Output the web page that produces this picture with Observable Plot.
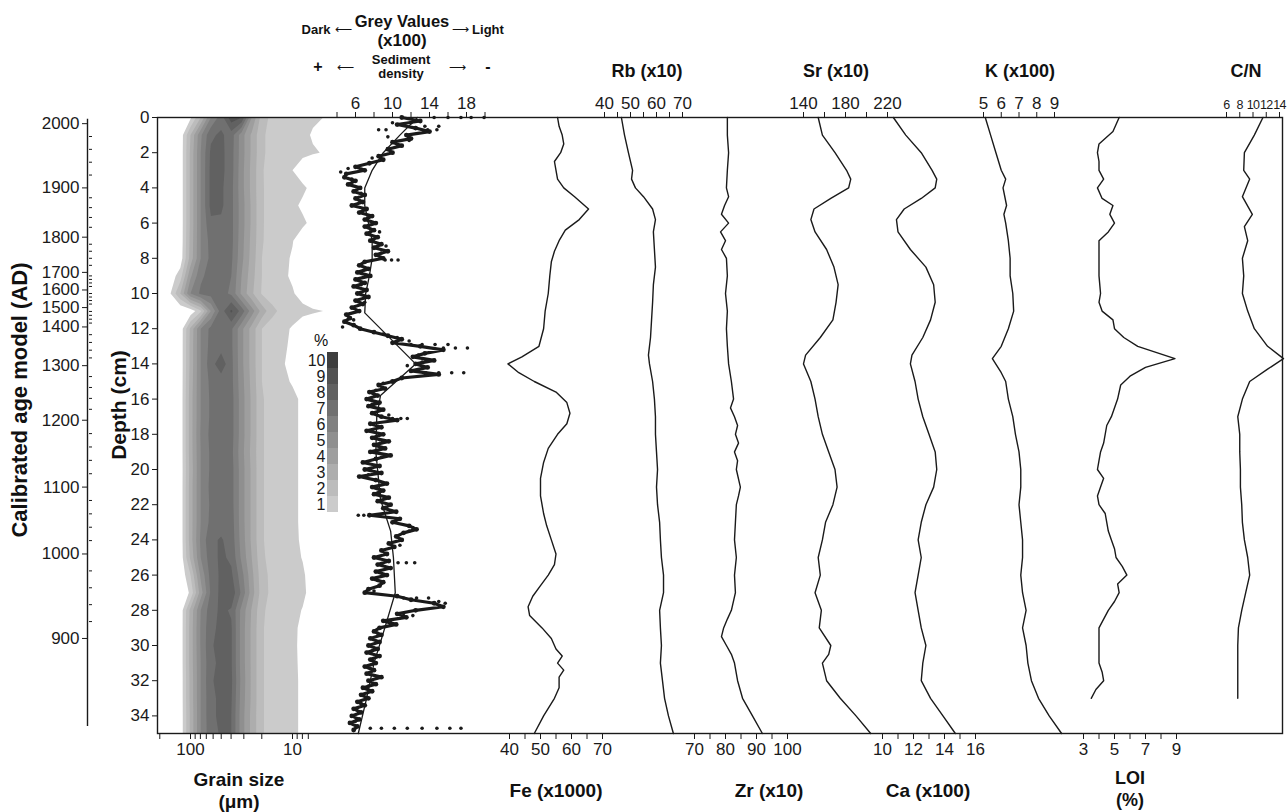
<!DOCTYPE html>
<html><head><meta charset="utf-8">
<script src="https://cdn.jsdelivr.net/npm/d3@7"></script>
<script src="https://cdn.jsdelivr.net/npm/@observablehq/plot@0.6"></script>
<style>
body{margin:0;background:#fff;font-family:"Liberation Sans",Arial,Helvetica,sans-serif;}
#chart{position:relative;width:1288px;height:812px;overflow:hidden;}
#chart svg{position:absolute;left:0;top:0;}
.lbl{position:absolute;color:#111;white-space:nowrap;line-height:1;transform:translate(-50%,-50%);}
.rot{position:absolute;color:#111;white-space:nowrap;line-height:1;font-weight:bold;transform:translate(-50%,-50%) rotate(-90deg);}
</style></head>
<body><div id="chart"></div>
<script>
// ================= DATA =================
const depthTicks = [0,2,4,6,8,10,12,14,16,18,20,22,24,26,28,30,32,34];
const ageLabels = [2000,1900,1800,1700,1600,1500,1400,1300,1200,1100,1000,900];
const ageDepths = [0.35,4.0,6.8,8.8,9.8,10.8,11.9,14.1,17.2,21.0,24.8,29.6];

// grain size distribution (% frequency); columns = log10(grain size µm) 2.2 .. 0.7, rows = depth 0..35 cm
const grainLogCols = [2.2,2.1,2.0,1.9,1.8,1.7,1.6,1.5,1.4,1.3,1.2,1.1,1.0,0.9,0.8,0.7];
const grainRows = [
 [0,0,0.8,3.0,6.0,7.5,9.6,9.0,5.0,2.5,1.7,1.5,1.4,1.3,1.15,1.0],
 [0,0.3,3.0,5.8,7.8,8.2,7.5,5.5,3.8,2.2,1.6,1.4,1.3,1.25,0.9,0],
 [0,0.3,3.2,6.0,8.2,8.3,7.4,5.5,3.8,2.2,1.6,1.45,1.35,1.25,1.1,0.95],
 [0,0.3,3.2,6.0,8.3,8.3,7.4,5.4,3.7,2.1,1.5,1.3,1.0,0.4,0,0],
 [0,0.3,3.2,6.0,8.3,8.2,7.3,5.4,3.7,2.1,1.6,1.4,1.3,1.2,0.7,0],
 [0,0.3,3.2,6.0,8.3,8.2,7.3,5.5,3.8,2.1,1.6,1.4,1.25,0.8,0,0],
 [0,0.3,3.2,6.0,7.8,7.8,7.3,5.5,3.8,2.1,1.6,1.4,1.3,1.2,0.7,0],
 [0,0.3,3.3,6.0,7.4,7.6,7.3,5.4,3.7,2.1,1.5,1.3,1.05,0.4,0,0],
 [0,0.4,3.4,6.0,7.3,7.5,7.2,5.3,3.6,2.0,1.5,1.25,0.9,0.3,0,0],
 [0.4,1.5,4.8,6.8,7.4,7.5,7.0,5.0,3.4,2.0,1.5,1.2,0.85,0.2,0,0],
 [0.9,3.0,6.0,7.2,7.4,7.4,6.8,4.8,3.2,1.9,1.5,1.3,1.1,0.6,0,0],
 [0,0,0.3,1.8,5.0,7.5,9.2,7.6,5.5,3.6,2.3,1.7,1.45,1.3,1.15,1.0],
 [0,0.3,3.2,6.0,7.3,7.5,7.2,5.3,3.6,2.0,1.5,1.25,0.9,0.3,0,0],
 [0,0.3,3.3,6.0,7.4,7.6,7.2,5.3,3.6,2.0,1.5,1.2,0.8,0.2,0,0],
 [0,0.3,3.3,6.0,7.6,8.6,7.3,5.3,3.6,2.0,1.45,1.1,0.7,0.2,0,0],
 [0,0.3,3.4,6.0,7.3,7.5,7.3,5.4,3.7,2.0,1.5,1.25,0.9,0.3,0,0],
 [0,0.3,3.5,6.0,7.2,7.5,7.4,5.5,3.8,2.1,1.6,1.4,1.25,0.8,0,0],
 [0,0.3,3.5,6.0,7.2,7.5,7.4,5.5,3.8,2.1,1.6,1.4,1.25,0.8,0,0],
 [0,0.3,3.5,6.1,7.3,7.6,7.4,5.5,3.8,2.1,1.6,1.4,1.25,0.8,0,0],
 [0,0.3,3.5,6.0,7.2,7.5,7.3,5.4,3.7,2.1,1.6,1.4,1.25,0.8,0,0],
 [0,0.3,3.4,6.0,7.2,7.5,7.4,5.5,3.8,2.1,1.6,1.4,1.25,0.8,0,0],
 [0,0.3,3.5,6.0,7.3,7.5,7.4,5.5,3.8,2.1,1.6,1.4,1.25,0.8,0,0],
 [0,0.3,3.5,6.0,7.2,7.5,7.4,5.5,3.8,2.1,1.6,1.4,1.25,0.8,0,0],
 [0,0.3,3.5,6.0,7.3,7.6,7.5,5.5,3.8,2.1,1.6,1.4,1.25,0.8,0,0],
 [0,0.3,3.5,6.2,7.8,8.1,7.6,5.6,3.8,2.1,1.6,1.4,1.25,0.85,0,0],
 [0,0.3,3.2,6.0,7.6,8.2,7.8,5.8,4.0,2.2,1.6,1.4,1.3,0.95,0.2,0],
 [0,0.1,2.0,5.2,7.4,8.2,8.2,6.4,4.3,2.4,1.7,1.45,1.3,1.15,0.5,0],
 [0,0,1.2,4.5,7.2,8.3,8.7,6.8,4.5,2.5,1.7,1.45,1.3,1.2,0.6,0],
 [0,0.3,3.3,6.0,7.6,8.2,7.9,5.7,3.9,2.2,1.6,1.4,1.3,0.95,0.2,0],
 [0,0.3,3.4,6.1,7.8,8.2,8.1,5.6,3.8,2.1,1.6,1.4,1.25,0.75,0,0],
 [0,0.3,3.4,6.1,7.9,8.3,8.1,5.6,3.8,2.1,1.6,1.4,1.25,0.7,0,0],
 [0,0.3,3.4,6.0,7.8,8.2,8.1,5.6,3.8,2.1,1.6,1.4,1.25,0.75,0,0],
 [0,0.3,3.3,6.0,7.9,8.3,8.2,5.7,3.8,2.1,1.6,1.4,1.25,0.8,0,0],
 [0,0.3,3.3,6.0,7.8,8.2,8.1,5.6,3.8,2.1,1.6,1.4,1.25,0.8,0,0],
 [0,0.3,3.2,6.0,7.8,8.2,8.0,5.5,3.7,2.1,1.6,1.4,1.25,0.8,0,0],
 [0,0.3,3.2,6.0,7.7,8.1,8.0,5.5,3.7,2.1,1.6,1.4,1.25,0.8,0,0]
];
const grainLevels = [1,2,3,4,5,6,7,8,9,10];
const grainGreys = ["#cbcbcb","#bcbcbc","#adadad","#9e9e9e","#8f8f8f","#808080","#707070","#616161","#525252","#3e3e3e"];
const grainTickLabels = [100, 10];
const grainMinorTicks = [200,90,80,70,60,50,40,30,20,9,8,7];

// grey values (x100), one reading every 0.2 cm from 0 to 34.8 cm
const greyStep = 0.2;
const greyValues = [
 11.0,13.0,10.5,12.5,14.0,11.5,12.0,10.0,11.0,9.5,
 10.0,8.5,9.0,7.5,6.0,7.0,5.0,4.8,6.0,5.2,
 6.5,5.8,7.0,6.0,6.8,5.6,7.2,6.4,7.8,7.0,
 8.2,7.0,8.0,7.2,8.4,7.6,8.8,8.0,9.5,8.2,
 9.0,7.0,6.4,7.4,6.2,7.6,6.0,7.0,5.8,7.2,
 6.2,7.4,6.0,6.8,5.6,6.4,5.0,5.4,4.8,5.8,
 6.5,8.0,9.5,11.0,10.0,13.0,15.5,13.5,12.2,14.5,
 12.5,13.8,12.0,15.0,11.0,10.0,8.5,9.2,7.5,8.4,
 7.2,8.6,7.4,9.0,7.8,8.8,10.5,7.6,8.8,7.2,
 9.0,7.8,9.6,8.0,9.2,7.6,9.8,8.2,6.8,8.6,
 7.0,8.8,6.4,8.2,9.4,7.8,9.0,8.0,9.6,8.4,
 9.8,9.0,10.4,7.5,10.8,10.0,11.8,12.6,11.2,10.4,
 11.0,9.6,10.2,8.8,9.4,8.0,9.6,8.4,9.8,8.2,
 9.4,7.8,9.0,8.6,7.4,7.0,10.5,12.0,14.5,15.5,
 12.5,10.5,11.5,9.0,10.4,8.6,8.0,8.8,7.6,8.6,
 7.4,8.4,7.2,8.6,7.6,8.2,7.0,8.0,7.2,8.8,
 7.4,8.2,6.8,7.8,6.6,7.4,6.2,7.0,5.8,6.6,
 5.6,6.4,5.4,6.2,5.8
];
// scattered outlying readings [depth, grey]
const greyStreaks = [
 [0.0,14.5],[0.0,16.0],[0.0,17.4],[0.0,18.5],[0.0,19.9],
 [0.3,10.0],[0.3,12.0],[0.5,13.5],[0.5,15.0],
 [0.7,8.5],[0.7,9.3],[0.7,13.8],[0.7,14.8],
 [1.1,9.5],[1.3,11.8],[2.3,7.8],[2.9,5.2],[3.1,4.4],[3.5,5.6],[4.3,6.6],
 [6.5,8.6],[7.3,9.3],[7.7,8.8],
 [8.1,9.2],[8.1,9.9],[8.1,10.6],
 [9.5,6.6],[10.5,7.0],[11.5,5.8],[11.9,4.6],
 [12.3,9.0],[12.5,10.5],[12.7,11.8],
 [12.9,12.0],[12.9,13.2],[12.9,14.6],[12.9,16.0],
 [13.1,15.5],[13.1,16.8],[13.1,18.1],
 [13.5,12.8],[13.9,13.2],[14.1,11.6],
 [14.5,13.6],[14.5,15.0],[14.5,16.4],[14.5,17.7],
 [15.1,9.0],[15.5,8.2],[16.3,7.8],[16.9,9.6],
 [17.1,10.0],[17.1,10.9],[17.1,11.6],
 [18.3,8.6],[19.3,8.8],[20.3,7.4],[21.3,8.6],
 [22.6,6.3],[22.6,6.9],[22.6,7.6],[22.6,8.3],
 [23.3,12.2],[23.5,11.8],[24.3,10.8],
 [25.3,10.6],[25.3,11.5],[25.3,12.4],
 [26.3,8.4],[26.9,8.0],
 [27.3,11.2],[27.3,12.6],[27.3,13.9],[27.5,15.0],[27.6,15.7],
 [28.3,11.2],[28.3,12.2],[28.7,9.8],
 [29.3,8.4],[30.3,7.8],[31.3,7.6],[32.3,7.4],[33.3,6.6],[34.3,6.0],
 [34.7,7.6],[34.7,8.8],[34.7,10.2],[34.7,11.6],[34.7,13.2],[34.7,14.8],[34.7,16.2],[34.7,17.4]
];
const greySmooth = [[0,12.7],[1,10.8],[2,9.0],[3,7.8],[4,7.0],[5,7.0],[6,7.4],[7,7.8],[8,7.8],[9,7.5],[10,7.1],[11.1,7.0],[14.0,12.5],[15.8,8.7],[17,8.3],[19,8.2],[21.7,8.7],[23.5,9.8],[25,10.1],[27,10.3],[29.3,9.0],[31,8.0],[33,7.2],[35,6.3]];
const greyTickLabels = [6,10,14,18];
const greyMinorTicks = [4,8,12,16,20];

// element profiles [depth cm, value]
const fe = [[0,55.5],[0.5,56],[1,57],[1.5,57.5],[2,56.5],[2.5,54.5],[3,55],[3.5,55.5],[4,57.5],[4.5,61],[5.2,65.5],[5.8,62.5],[6.4,58],[7,56],[7.6,54.5],[8.2,53.5],[9,53],[10,52.5],[11,51.5],[12,51],[13,49.5],[13.6,44],[14,39.5],[14.5,43],[15,48],[15.6,55],[16.2,58.5],[16.8,59.5],[17.4,58.5],[18,55.5],[18.8,52.5],[19.6,51],[20.5,50],[21.5,50],[22.5,51],[23.2,52],[24,53.5],[24.8,55],[25.4,54.5],[26,52.5],[26.6,50],[27.2,47.5],[27.8,46],[28.3,46.5],[29,50.5],[29.6,53.5],[30.2,55],[30.6,57],[31,55.5],[31.4,57.5],[31.8,56],[32.4,56],[33,54.5],[34,51],[35,48]];
const rb = [[0,46.5],[1,47.7],[2,49.2],[3,50.8],[3.5,50.4],[4,51.9],[4.5,55],[5.2,58.5],[5.8,59.6],[6.5,58.8],[7.5,59.2],[8.5,59.6],[9.5,58.8],[10.5,58.5],[11.5,58.1],[12.5,57.7],[13.5,56.9],[14,57.3],[15,58.5],[16,59.2],[17,59.6],[18,59.6],[19,60],[20,60.4],[21,60],[22,60.4],[23,61.2],[24,61.5],[25,61.9],[26,62.7],[27,62.7],[28,61.2],[29,61.5],[30,61.9],[31,61.5],[32,62.3],[33,63.1],[34,64.6],[35,66.5]];
const zr = [[0,80.6],[1,80.6],[2,81],[3,80.6],[4,80.3],[4.5,81],[5,79.7],[5.5,78.7],[6,81],[6.5,78.4],[7,80],[7.5,78.7],[8,80.3],[9,80.6],[10,80],[11,80.6],[12,80.3],[13,80.6],[14,81],[15,81.9],[16,82.6],[16.5,81.6],[17,82.9],[17.5,83.9],[18,83.2],[18.5,84.2],[19,82.9],[19.5,83.9],[20,83.5],[21,84.8],[21.5,84.2],[22,83.5],[23,83.2],[24,82.9],[25,83.5],[26,82.9],[27,83.2],[28,81.9],[28.5,80.6],[29,79.4],[29.5,78.7],[30,80.3],[30.5,81.9],[31,82.9],[32,83.9],[33,85.5],[34,88.7],[35,91.9]];
const sr = [[0,154],[1,158],[2,170],[3,181],[3.5,185],[4,183],[4.6,166],[5.2,150],[5.8,147],[6.5,151],[7.5,162],[8.5,169],[9.5,173],[10.5,171],[11.5,168],[12.5,156],[13.5,142],[14,140],[15,147],[16,151],[17,154],[18,158],[19,164],[20,170],[21,172],[22,168],[23,161],[24,158],[25,154],[26,156],[27,151],[28,157],[29,155],[30,166],[30.5,164],[31,158],[32,162],[33,175],[34,190],[35,204]];
const ca = [[0,10.7],[1,11.5],[2,12.5],[3,13.2],[3.5,13.5],[4,13.4],[4.6,12.5],[5.2,11.4],[5.8,10.9],[6.5,11],[7.5,11.8],[8.5,12.8],[9.5,13.3],[10.5,13.4],[11.5,13.1],[12.5,12.6],[13.5,11.9],[14,11.8],[15,12.1],[16,12.3],[17,12.6],[18,13],[19,13.4],[20,13.5],[21,13.3],[22,12.8],[23,12.5],[24,12.3],[25,12.5],[26,12.3],[27,12.1],[28,12.3],[29,12.5],[30,12.8],[31,12.6],[32,12.5],[33,13.1],[34,13.9],[35,14.7]];
const k = [[0,5.1],[1,5.4],[2,5.7],[3,6.0],[3.5,6.25],[4,6.1],[5,6.3],[5.5,6.15],[6,6.25],[7,6.4],[8,6.5],[9,6.5],[10,6.65],[11,6.7],[12,6.4],[13,6.0],[13.7,5.5],[14.5,6.0],[15,6.25],[16,6.4],[17,6.65],[18,6.8],[19,7.0],[20,7.1],[21,7.1],[22,7.0],[23,7.1],[24,7.2],[25,7.2],[26,7.1],[27,7.2],[28,7.4],[29,7.2],[30,7.4],[31,7.5],[32,7.7],[33,8.1],[34,8.7],[35,9.4]];
const loi = [[0,5.3],[0.8,4.9],[1.5,4.0],[2,3.9],[2.5,4.0],[3,4.0],[3.5,4.3],[4,3.9],[4.6,4.2],[5,4.9],[5.5,4.7],[6,5.0],[6.5,4.6],[7,4.0],[8,4.0],[9,4.0],[10,4.1],[10.5,4.0],[11,4.2],[11.5,4.9],[12,5.0],[12.5,5.6],[13,6.5],[13.7,8.9],[14.2,7.0],[14.7,6.0],[15.2,5.4],[16,5.2],[17,4.8],[17.5,4.5],[18.5,4.3],[19,4.1],[19.5,4.0],[20,3.9],[20.5,4.3],[21,4.1],[21.5,3.9],[22,4.0],[22.5,4.4],[23,4.5],[23.5,4.6],[24,4.8],[24.5,5.0],[25,5.1],[25.5,5.5],[26,5.8],[26.5,5.2],[27,5.3],[27.5,5.0],[28,4.6],[28.5,4.3],[29,4.0],[29.5,4.0],[30,4.0],[31,4.0],[31.5,4.2],[32,4.3],[32.5,3.8],[33,3.5]];
const cn = [[0,11.5],[1,10.2],[2,8.7],[3,8.6],[3.5,9.5],[4.5,8.4],[5.5,9.9],[6.2,8.7],[7,9.2],[8,8.4],[9,8.6],[10,8.4],[11,9.2],[12,10.2],[13,12.2],[13.7,14.6],[14.3,12.2],[15,9.5],[16,8.4],[17,7.7],[18,8.0],[19,8.0],[20,8.1],[21,8.1],[22,8.3],[23,8.4],[24,8.7],[25,9.2],[26,9.5],[27,8.9],[28,8.3],[29,7.8],[30,7.7],[31,7.7],[32,7.7],[33,7.7]];

// ================= DRAWING =================
const chart = document.getElementById("chart");
const W = 1288, H = 812;
const INK = "#1a1a1a";
const FONT = '"Liberation Sans", Arial, Helvetica, sans-serif';
const Yscale = {domain: [0, 35], range: [117, 733], axis: null};

function layer(opts) {
  const {style = {}, ...rest} = opts;
  const svg = Plot.plot({
    width: W, height: H,
    marginTop: 117, marginBottom: 79, marginLeft: 157, marginRight: 6,
    y: Yscale,
    ...rest,
    style: {background: "transparent", fontFamily: FONT, fontSize: "17px", color: INK, overflow: "visible", ...style}
  });
  chart.appendChild(svg);
}

const greyColor = {type: "threshold", domain: grainLevels.slice(1), range: grainGreys};

// grain size contour
layer({
  x: {domain: [2, 1], range: [190, 292], axis: null},
  color: greyColor,
  marks: [
    Plot.contour(grainRows.flat(), {width: grainLogCols.length, height: grainRows.length,
      x1: grainLogCols[0] + 0.05, x2: grainLogCols[grainLogCols.length - 1] - 0.05, y1: -0.5, y2: 35.5,
      fill: Plot.identity, thresholds: grainLevels, clip: true}),
    Plot.axisX(grainTickLabels.map(Math.log10), {anchor: "bottom", tickSize: 6, tickPadding: 3, tickFormat: d => String(Math.round(10 ** d)), label: null}),
    Plot.axisX(grainMinorTicks.map(Math.log10), {anchor: "bottom", tickSize: 6, tickFormat: () => "", label: null})
  ]
});

// frame + depth axis
layer({
  x: {domain: [0, 1], axis: null},
  marks: [
    Plot.frame({stroke: INK, strokeWidth: 1.4}),
    Plot.axisY(depthTicks, {anchor: "left", tickSize: 5, tickPadding: 3, label: null})
  ]
});

// age axis
const ageScale = d3.scaleLinear().domain(ageLabels).range(ageDepths);
const ageMinor = [];
for (let a = 1980; a >= 920; a -= 20) if (a % 100 !== 0) ageMinor.push(ageScale(a));
layer({
  marginLeft: 87, marginRight: W - 88,
  x: {domain: [0, 1], axis: null},
  marks: [
    Plot.ruleX([0], {y1: 0.1, y2: 34.6, stroke: INK, strokeWidth: 1.4}),
    Plot.axisY(ageDepths, {anchor: "left", tickSize: 5, tickPadding: 3, tickFormat: d => String(ageLabels[ageDepths.indexOf(d)]), label: null}),
    Plot.axisY(ageMinor, {anchor: "right", tickSize: 3, tickFormat: () => "", label: null})
  ]
});

// grey values
const greyPts = greyValues.map((v, i) => ({d: +(i * greyStep).toFixed(1), v}));
layer({
  x: {domain: [6, 18], range: [355, 466], axis: null},
  marks: [
    Plot.axisX(greyTickLabels, {anchor: "top", tickSize: 6, tickPadding: 3, label: null}),
    Plot.axisX(greyMinorTicks, {anchor: "top", tickSize: 6, tickFormat: () => "", label: null}),
    Plot.line(greyPts, {x: "v", y: "d", stroke: INK, strokeWidth: 3.2, strokeLinejoin: "round"}),
    Plot.dot(greyPts, {x: "v", y: "d", r: 2.4, fill: INK}),
    Plot.dot(greyStreaks, {x: d => d[1], y: d => d[0], r: 1.8, fill: INK}),
    Plot.line(greySmooth, {x: d => d[1], y: d => d[0], stroke: INK, strokeWidth: 1.3})
  ]
});

// element panels
const panels = [
  {data: fe,  domain: [40, 70],  range: [509, 602],  anchor: "bottom", major: [40,50,60,70],   minor: [45,55,65]},
  {data: rb,  domain: [40, 70],  range: [604, 682],  anchor: "top",    major: [40,50,60,70],   minor: [45,55,65]},
  {data: zr,  domain: [70, 100], range: [694, 787],  anchor: "bottom", major: [70,80,90,100],  minor: [75,85,95]},
  {data: sr,  domain: [140, 220],range: [803, 887],  anchor: "top",    major: [140,180,220],   minor: [160,200]},
  {data: ca,  domain: [10, 16],  range: [882, 975],  anchor: "bottom", major: [10,12,14,16],   minor: [11,13,15]},
  {data: k,   domain: [5, 9],    range: [983, 1054], anchor: "top",    major: [5,6,7,8,9],     minor: []},
  {data: loi, domain: [3, 9],    range: [1083, 1176],anchor: "bottom", major: [3,5,7,9],       minor: [4,6,8]},
  {data: cn,  domain: [6, 14],   range: [1226, 1279],anchor: "top",    major: [6,8,10,12,14],  minor: [], style: {fontSize: "12.5px", letterSpacing: "-0.6px"}}
];
for (const p of panels) {
  layer({
    x: {domain: p.domain, range: p.range, axis: null},
    style: p.style || {},
    marks: [
      Plot.axisX(p.major, {anchor: p.anchor, tickSize: 6, tickPadding: 3, label: null}),
      p.minor.length ? Plot.axisX(p.minor, {anchor: p.anchor, tickSize: 6, tickFormat: () => "", label: null}) : null,
      Plot.line(p.data, {x: d => d[1], y: d => d[0], stroke: INK, strokeWidth: 1.4})
    ]
  });
}

// legend of grain size %
const legendLevels = grainLevels.slice().reverse();
layer({
  marginLeft: 327, marginRight: W - 338, marginTop: 348, marginBottom: H - 515,
  x: {domain: [0, 1], axis: null},
  y: {type: "band", domain: legendLevels, padding: 0, axis: null},
  color: greyColor,
  style: {fontSize: "16px"},
  marks: [
    Plot.cell(legendLevels, {y: d => d, fill: d => d}),
    Plot.axisY(legendLevels, {anchor: "left", tickSize: 0, tickPadding: 2, label: null})
  ]
});

// ================= TEXT =================
function txt(t, x, y, size, bold, cls = "lbl") {
  const el = document.createElement("div");
  el.className = cls;
  el.textContent = t;
  el.style.left = x + "px"; el.style.top = y + "px";
  el.style.fontSize = size + "px";
  if (bold) el.style.fontWeight = "bold";
  chart.appendChild(el);
}
txt("Grey Values", 402, 21, 16.5, true);
txt("(x100)", 402, 40, 17, true);
txt("Dark", 316, 29, 13, true);
txt("⟵", 343, 29, 12, false);
txt("⟶", 460, 29, 12, false);
txt("Light", 488, 29, 13, true);
txt("Sediment", 401, 59, 13, true);
txt("density", 401, 73, 13, true);
txt("+", 318, 67, 16, true);
txt("⟵", 345, 67, 12, false);
txt("⟶", 457, 67, 12, false);
txt("-", 488, 67, 16, true);
txt("Rb (x10)", 647, 71, 18, true);
txt("Sr (x10)", 836, 71, 18, true);
txt("K (x100)", 1020, 71, 18, true);
txt("C/N", 1246, 71, 18, true);
txt("Grain size", 239, 779, 19, true);
txt("(μm)", 239, 801, 19, true);
txt("Fe (x1000)", 556, 790, 19, true);
txt("Zr (x10)", 769, 790, 19, true);
txt("Ca (x100)", 928, 790, 19, true);
txt("LOI", 1130, 778, 18, true);
txt("(%)", 1130, 800, 18, true);
txt("%", 321, 341, 16, false);
txt("Calibrated age model (AD)", 20, 400, 22, true, "rot");
txt("Depth (cm)", 118, 405, 21, true, "rot");
</script></body></html>
